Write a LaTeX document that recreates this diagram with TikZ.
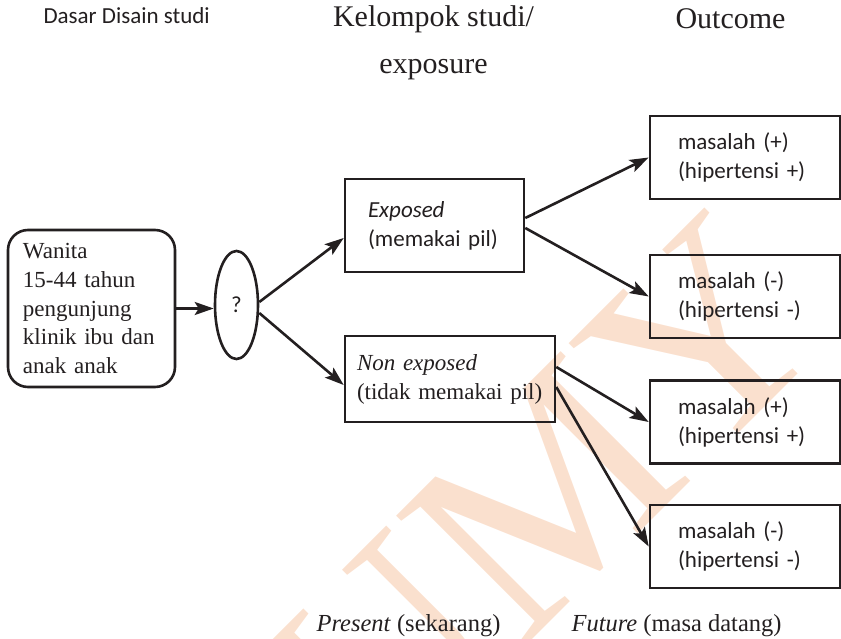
\documentclass[tikz,border=0pt]{standalone}
\usepackage{fontspec}
\setmainfont{Liberation Serif}
\newfontfamily\carlito{Carlito}
\usetikzlibrary{arrows.meta,shapes.geometric,calc}

\definecolor{ink}{RGB}{35,31,32}
\definecolor{wmark}{RGB}{250,224,206}

\begin{document}
\begin{tikzpicture}[x=1pt,y=-1pt,
  every node/.style={text=ink},
  sanstxt/.style={font=\carlito\fontsize{23}{29}\selectfont},
  seriftxt/.style={font=\fontsize{23}{29}\selectfont},
  headtxt/.style={font=\fontsize{30}{36}\selectfont},
  timetxt/.style={font=\fontsize{24.5}{30}\selectfont},
  frame/.style={draw=ink, line width=2.6pt, rectangle, inner ysep=0pt, align=left},
  outbox/.style={frame, sanstxt, minimum width=190pt, minimum height=83pt,
                 inner xsep=28pt, text width=134pt},
  link/.style={draw=ink, line width=2.6pt},
  arrow/.style={link, -{Stealth[length=19pt,width=13pt,inset=4pt]}}
]
\useasboundingbox (0,0) rectangle (841,639);

% watermark
\node[text=wmark, rotate=45, font=\fontsize{280}{280}\selectfont, inner sep=0pt]
  (wm) at (545,500) {UMY};

% column headings
\node[sanstxt, anchor=base west] (hdesign) at (40,24) {Dasar Disain studi};
\node[headtxt, anchor=base] (hgroup) at (433.5,27) {Kelompok studi/};
\node[headtxt, anchor=base] (hgroup2) at (433.5,74) {exposure};
\node[headtxt, anchor=base west] (houtcome) at (672,29) {Outcome};

% population
\node[frame, seriftxt, rounded corners=20pt, font=\fontsize{23}{28.75}\selectfont,
      minimum width=167pt, minimum height=157pt, inner xsep=15pt, text width=137pt]
  (pop) at (91.5,308.5) {Wanita\\15-44 tahun\\pengunjung\\klinik ibu dan\\anak anak};

\node[draw=ink, line width=2.6pt, ellipse, sanstxt, minimum width=43pt,
      minimum height=108pt, inner sep=0pt] (sel) at (236.5,305) {?};

% study groups
\node[frame, sanstxt, minimum width=179pt, minimum height=93pt,
      inner xsep=23pt, text width=133pt] (expo) at (434.5,225.5)
  {\textit{Exposed}\\(memakai pil)};
\node[frame, seriftxt, minimum width=210pt, minimum height=86pt,
      inner xsep=12pt, text width=186pt] (nonexpo) at (450,379)
  {\textit{Non exposed}\\(tidak memakai pil)};

% outcomes
\node[outbox] (o1) at (745,157.5) {masalah (+)\\(hipertensi +)};
\node[outbox] (o2) at (745,296.5) {masalah (-)\\(hipertensi -)};
\node[outbox] (o3) at (745,422)   {masalah (+)\\(hipertensi +)};
\node[outbox] (o4) at (745,546.5) {masalah (-)\\(hipertensi -)};

% time axis labels
\node[timetxt, anchor=base west] (tnow) at (313,631) {\textit{Present} (sekarang)};
\node[timetxt, anchor=base west] (tfut) at (568,631) {\textit{Future} (masa datang)};

% connectors
\draw[arrow] (pop.east) -- (pop.east -| sel.west);
\draw[arrow] ([yshift=3pt]sel.east) -- ([yshift=-12.5pt]expo.west);
\draw[arrow] ([yshift=-8pt]sel.east) -- ([yshift=-6pt]nonexpo.west);
\draw[arrow] ([yshift=7.5pt]expo.east) -- (o1.west);
\draw[arrow] ([yshift=-2.5pt]expo.east) -- (o2.west);
\draw[arrow] ([yshift=12pt]nonexpo.east) -- (o3.west);
\draw[arrow] ([yshift=-8pt]nonexpo.east) -- (o4.west);
\end{tikzpicture}
\end{document}
